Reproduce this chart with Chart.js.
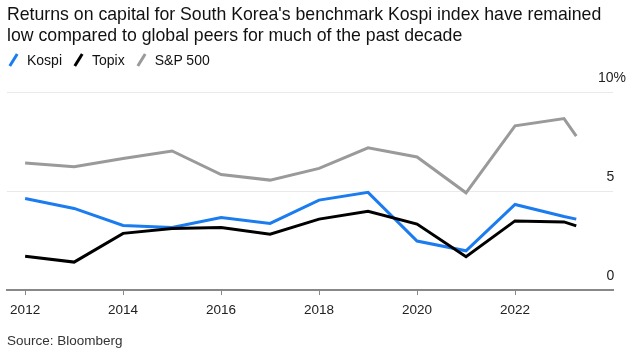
<!DOCTYPE html>
<html>
<head>
<meta charset="utf-8">
<script src="https://cdn.jsdelivr.net/npm/chart.js@4"></script>
<style>
  body { margin: 0; background: #fff; font-family: "Liberation Sans", Arial, sans-serif; }
  #wrap { position: relative; width: 634px; height: 353px; overflow: hidden; }
  #chart { position: absolute; left: 0; top: 0; }
  .title { position: absolute; left: 7px; top: 4px; font-size: 17.7px; line-height: 21px; color: #111; }
  #legend { position: absolute; left: 7px; top: 52px; display: flex; font-size: 14px; line-height: 16px; color: #111; }
  .item { display: flex; align-items: center; margin-right: 10px; }
  .swatch { width: 14px; height: 16px; position: relative; margin-right: 6px; }
  .swatch span { position: absolute; left: 5px; top: 1px; width: 3px; height: 14px; transform: rotate(32deg); }
  .source { position: absolute; left: 7px; top: 333px; font-size: 13.5px; color: #333; }
</style>
</head>
<body>
<div id="wrap">
  <canvas id="chart" width="634" height="353"></canvas>
  <div class="title">Returns on capital for South Korea's benchmark Kospi index have remained<br>low compared to global peers for much of the past decade</div>
  <div id="legend"></div>
  <div class="source">Source: Bloomberg</div>
</div>
<script>
// Yearly return on capital (%), last point is the latest partial reading
const years = [2012, 2013, 2014, 2015, 2016, 2017, 2018, 2019, 2020, 2021, 2022, 2023, 2023.25];
const kospi = [4.62, 4.12, 3.26, 3.16, 3.66, 3.36, 4.54, 4.93, 2.47, 1.98, 4.32, 3.71, 3.58];
const topix = [1.71, 1.41, 2.86, 3.11, 3.16, 2.82, 3.58, 3.98, 3.33, 1.68, 3.49, 3.44, 3.24];
const sp500 = [6.42, 6.22, 6.64, 7.02, 5.83, 5.55, 6.14, 7.18, 6.72, 4.91, 8.29, 8.66, 7.77];

const seriesNames = ['Kospi', 'Topix', 'S&P 500'];
const seriesColors = ['#1b7cef', '#000000', '#9a9a9a'];
const xTicks = [2012, 2014, 2016, 2018, 2020, 2022];
const yTicks = [0, 5, 10];

const font = '"Liberation Sans", Arial, sans-serif';

// legend in html
const legend = document.getElementById('legend');
seriesNames.forEach((name, i) => {
  const item = document.createElement('div');
  item.className = 'item';
  item.innerHTML = `<div class="swatch"><span style="background:${seriesColors[i]}"></span></div><div></div>`;
  item.lastChild.textContent = name;
  legend.appendChild(item);
});

const toPoints = vals => vals.map((v, i) => ({ x: years[i], y: v }));
const series = [kospi, topix, sp500];

new Chart(document.getElementById('chart'), {
  type: 'line',
  data: {
    datasets: series.map((vals, i) => ({
      label: seriesNames[i],
      data: toPoints(vals),
      borderColor: seriesColors[i],
      borderWidth: 3,
      pointRadius: 0,
      tension: 0,
      borderJoinStyle: 'miter',
      borderCapStyle: 'butt'
    })).reverse()
  },
  options: {
    responsive: false,
    animation: false,
    events: [],
    layout: { padding: { top: 92, left: 7, right: 8, bottom: 33 } },
    plugins: { legend: { display: false }, title: { display: false }, tooltip: { enabled: false } },
    scales: {
      x: {
        type: 'linear',
        min: 2011.63,
        max: 2024,
        afterBuildTicks: s => { s.ticks = xTicks.map(v => ({ value: v })); },
        afterFit: s => { s.height = 30; },
        grid: { drawOnChartArea: false, drawTicks: true, tickLength: 5, color: '#888', lineWidth: 1 },
        border: { display: true, color: '#888', width: 2 },
        ticks: {
          autoSkip: false, maxRotation: 0, padding: 7,
          color: '#222', font: { family: font, size: 13.5 },
          callback: v => String(v)
        }
      },
      y: {
        position: 'right',
        min: 0,
        max: 10,
        afterBuildTicks: s => { s.ticks = yTicks.map(v => ({ value: v })); },
        afterFit: s => { s.width = 13; },
        grid: {
          drawTicks: false,
          color: c => c.tick && c.tick.value === 0 ? 'rgba(0,0,0,0)' : '#e9e9e9',
          lineWidth: 1
        },
        border: { display: false },
        ticks: {
          mirror: true, crossAlign: 'near', padding: 13, labelOffset: -13.5,
          color: '#222', font: { family: font, size: 14 },
          callback: v => v === 10 ? v + '%' : v + '   '
        }
      }
    }
  }
});
</script>
</body>
</html>
